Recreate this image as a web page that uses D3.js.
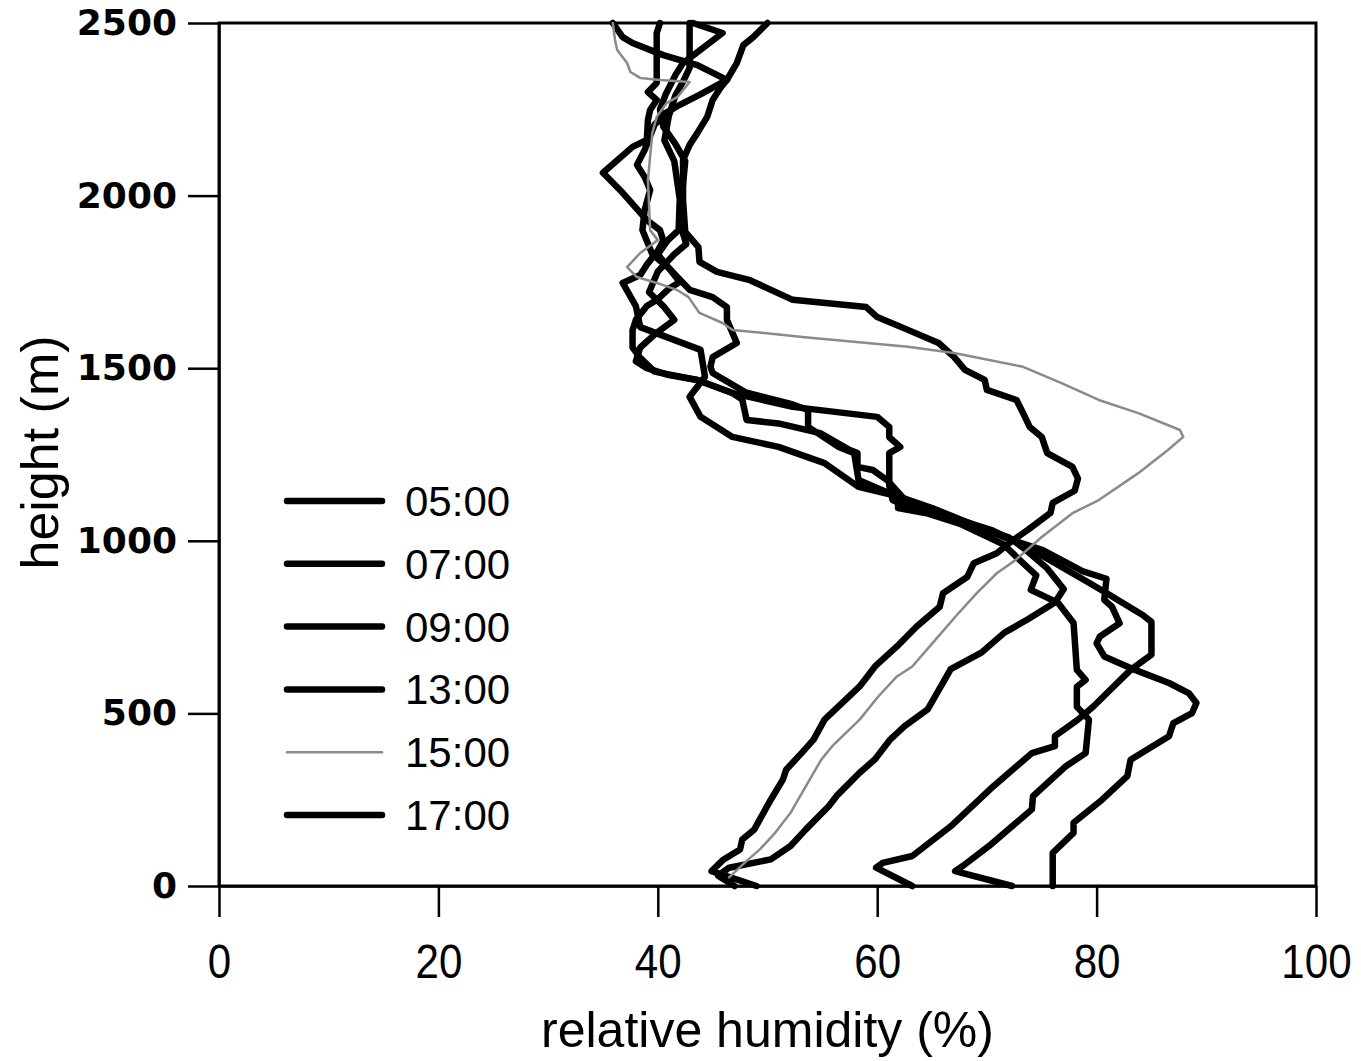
<!DOCTYPE html>
<html>
<head>
<meta charset="utf-8">
<script src="https://cdn.jsdelivr.net/npm/d3@7"></script>
<style>
  body { margin: 0; background: #fff; }
  svg { display: block; }
  .tick line { stroke: #000; stroke-width: 2.5; }
  .domain { stroke: #000; stroke-width: 2.5; }
  .line { fill: none; stroke-linejoin: round; stroke-linecap: round; }
</style>
</head>
<body>
<script>
// profiles: [relative humidity %, height m]
let p0500 = [[76.0,0],[76.0,96],[77.9,154],[77.9,183],[80.5,250],[82.8,318],[83.1,366],[86.6,434],[87.0,472],[88.7,501],[89.1,530],[88.4,559],[86.6,588],[83.5,626],[80.7,665],[80.0,703],[80.3,723],[82.1,761],[81.4,809],[80.7,829],[80.9,890],[78.7,912],[75.1,973],[72.0,1005],[68.5,1050],[65.0,1095],[62.1,1127],[58.3,1156],[55.2,1225],[51.0,1272],[46.8,1301],[43.9,1359],[42.9,1417],[44.3,1475],[43.9,1553],[38.4,1619],[38.0,1680],[36.8,1747],[38.4,1770],[39.0,1800],[40.0,1840],[40.5,1870],[40.2,1900],[39.0,1929],[36.8,2008],[35.0,2066],[37.7,2141],[39.0,2161],[39.1,2219],[39.3,2248],[39.9,2277],[39.1,2300],[39.9,2326],[39.9,2471],[40.2,2500]];

let p0700 = [[72.3,0],[67.1,43],[67.8,58],[70.2,116],[72.3,173],[74.1,222],[74.2,260],[77.2,347],[79.0,385],[79.3,482],[78.2,519],[78.2,577],[79.0,597],[78.2,626],[77.9,762],[76.5,820],[74.0,858],[74.5,900],[73.0,944],[71.5,990],[67.5,1050],[64.5,1080],[61.9,1095],[61.9,1127],[58.3,1176],[57.9,1254],[56.5,1272],[53.7,1330],[53.7,1379],[52.3,1395],[48.0,1430],[45.0,1486],[44.8,1504],[45.0,1532],[47.2,1573],[46.3,1640],[46.3,1677],[45.0,1706],[42.9,1727],[41.0,1790],[40.0,1830],[40.9,1870],[41.9,1900],[42.0,1990],[41.5,2100],[40.6,2160],[41.0,2230],[41.6,2290],[42.3,2330],[42.9,2370],[42.9,2500]];

let p0900 = [[63.2,0],[59.9,53],[60.5,67],[63.2,87],[66.7,173],[70.6,289],[74.1,385],[76.2,405],[76.2,434],[78.3,482],[79.7,520],[83.1,626],[85.0,670],[85.0,765],[84.2,785],[81.9,829],[81.2,843],[79.5,875],[76.5,930],[73.5,985],[70.5,1030],[66.0,1075],[62.3,1105],[61.4,1118],[61.1,1160],[61.1,1254],[62.1,1272],[61.1,1300],[61.1,1330],[60.0,1359],[52.3,1388],[46.8,1428],[43.6,1466],[41.0,1480],[39.0,1500],[38.0,1520],[38.4,1560],[39.8,1600],[41.5,1640],[40.5,1680],[39.2,1720],[40.0,1780],[41.5,1830],[42.6,1860],[42.2,1900],[42.2,2000],[42.5,2100],[41.6,2150],[40.5,2200],[40.2,2250],[40.7,2292],[41.6,2349],[42.3,2384],[45.9,2471],[43.2,2500]];

let p1300 = [[49.0,0],[44.9,43],[46.0,77],[47.5,106],[47.7,135],[48.8,164],[49.3,193],[50.3,250],[51.4,308],[51.7,337],[53.1,385],[54.2,424],[55.2,482],[58.4,578],[59.8,636],[61.8,694],[63.6,752],[65.7,809],[66.0,848],[68.2,895],[68.8,935],[70.9,964],[72.3,1000],[73.7,1031],[75.8,1081],[76.0,1110],[78.0,1145],[78.3,1180],[77.8,1214],[75.5,1254],[75.0,1301],[73.9,1330],[73.3,1370],[72.7,1408],[70.0,1437],[69.8,1466],[68.0,1495],[67.0,1533],[65.6,1573],[62.8,1611],[60.0,1648],[59.0,1677],[52.3,1698],[48.4,1755],[45.4,1779],[43.8,1808],[43.7,1851],[42.5,1895],[42.3,1987],[42.3,2103],[42.9,2147],[43.6,2181],[44.5,2228],[45.0,2277],[45.7,2312],[46.3,2335],[47.2,2384],[47.8,2436],[48.7,2459],[50.0,2500]];

let p1500 = [[46.5,25],[48.0,70],[49.3,106],[50.7,154],[52.1,212],[53.5,289],[54.9,366],[55.9,405],[58.4,482],[60.1,549],[61.8,607],[63.2,636],[65.3,713],[67.4,790],[69.1,849],[70.9,906],[72.6,944],[75.0,1011],[77.8,1080],[80.2,1118],[83.8,1196],[86.5,1263],[87.9,1301],[87.6,1321],[83.8,1370],[80.2,1408],[76.8,1457],[73.3,1504],[67.0,1544],[62.8,1562],[53.4,1590],[46.8,1611],[45.9,1631],[43.8,1660],[42.8,1706],[41.8,1726],[39.9,1747],[38.1,1764],[37.2,1793],[38.4,1834],[40.0,1871],[39.3,1900],[39.1,2045],[39.5,2181],[39.9,2228],[40.8,2268],[41.8,2286],[42.9,2329],[40.2,2335],[38.4,2341],[37.5,2358],[37.2,2384],[36.3,2422],[36.1,2451],[35.9,2500]];

let p1700 = [[47.0,0],[45.5,30],[46.5,53],[50.3,77],[52.1,116],[53.5,164],[55.6,232],[56.3,261],[58.4,328],[59.8,367],[61.2,425],[62.5,463],[64.6,512],[66.0,589],[66.7,628],[69.5,676],[71.6,734],[73.7,772],[76.2,821],[77.0,860],[75.5,920],[73.5,975],[72.0,1010],[68.0,1050],[64.5,1085],[62.5,1120],[60.9,1176],[59.6,1205],[58.2,1214],[58.2,1254],[57.5,1263],[54.8,1312],[51.0,1340],[48.1,1350],[47.7,1409],[46.8,1428],[43.6,1466],[39.7,1490],[38.4,1530],[37.7,1560],[37.7,1610],[38.0,1640],[39.0,1680],[40.0,1700],[41.0,1730],[42.0,1750],[41.0,1790],[39.5,1830],[38.6,1900],[38.8,1958],[39.3,2016],[38.8,2054],[38.1,2089],[38.8,2132],[39.7,2205],[40.7,2239],[42.0,2263],[43.8,2292],[46.3,2335],[43.6,2378],[40.5,2407],[37.7,2442],[36.8,2459],[35.9,2500]];

let labels = ["05:00", "07:00", "09:00", "13:00", "15:00", "17:00"];
let profiles = [p0500, p0700, p0900, p1300, p1500, p1700];
let colors = ["#000", "#000", "#000", "#000", "#8a8a8a", "#000"];
let widths = [6.5, 6.5, 6.5, 6.5, 2.5, 6.5];

let xTicks = [0, 20, 40, 60, 80, 100];
let yTicks = [0, 500, 1000, 1500, 2000, 2500];

let margin = {top: 23, right: 45, bottom: 175, left: 219},
    width  = 1361 - margin.left - margin.right,
    height = 1061 - margin.top  - margin.bottom;

let svg = d3.select("body").append("svg")
    .attr("width", 1361)
    .attr("height", 1061)
    .style("font-family", "'Liberation Sans', Arial, sans-serif");

let g = svg.append("g")
    .attr("transform", `translate(${margin.left}, ${margin.top})`);

let xScale = d3.scaleLinear().domain([0, 100]).range([0, width]);
let yScale = d3.scaleLinear().domain([0, 2500]).range([height, 0]);

// frame
g.append("rect")
    .attr("width", width)
    .attr("height", height)
    .attr("fill", "none")
    .attr("stroke", "#000")
    .attr("stroke-width", 3);

let xAxis = d3.axisBottom(xScale).tickValues(xTicks).tickSize(31).tickSizeOuter(0)
    .tickPadding(26).tickFormat(d3.format("d"));
let yAxis = d3.axisLeft(yScale).tickValues(yTicks).tickSize(31).tickSizeOuter(0)
    .tickPadding(11).tickFormat(d3.format("d"));

let gx = g.append("g")
    .attr("transform", `translate(0, ${height})`)
    .call(xAxis);
gx.selectAll("text")
    .attr("fill", "#000")
    .attr("transform", "scale(0.86,1)")
    .style("font-size", "49px");

let gy = g.append("g").call(yAxis);
gy.selectAll("text")
    .attr("fill", "#000")
    .style("font-family", "'DejaVu Sans', sans-serif")
    .style("font-weight", "bold")
    .style("font-size", "36px");

// axis titles
svg.append("text")
    .attr("x", margin.left + xScale(50))
    .attr("y", 1047)
    .attr("text-anchor", "middle")
    .style("font-size", "50px")
    .text("relative humidity (%)");

svg.append("text")
    .attr("transform", `translate(58, ${margin.top + yScale(1250) - 2}) rotate(-90)`)
    .attr("text-anchor", "middle")
    .style("font-size", "52px")
    .text("height (m)");

// profiles
let line = d3.line()
    .x(d => xScale(d[0]))
    .y(d => yScale(d[1]));

let order = [0, 1, 2, 3, 5, 4];
order.forEach(i => {
  g.append("path")
      .datum(profiles[i])
      .attr("class", "line")
      .attr("stroke", colors[i])
      .attr("stroke-width", widths[i])
      .attr("d", line);
});

// legend
let legend = svg.append("g").attr("transform", "translate(287, 501)");
labels.forEach((lab, i) => {
  let row = legend.append("g").attr("transform", `translate(0, ${i * 62.8})`);
  row.append("line")
      .attr("x1", 0).attr("x2", 95)
      .attr("stroke", colors[i])
      .attr("stroke-width", widths[i])
      .attr("stroke-linecap", "round");
  row.append("text")
      .attr("x", 118)
      .attr("y", 15)
      .style("font-size", "42px")
      .text(lab);
});
</script>
</body>
</html>
